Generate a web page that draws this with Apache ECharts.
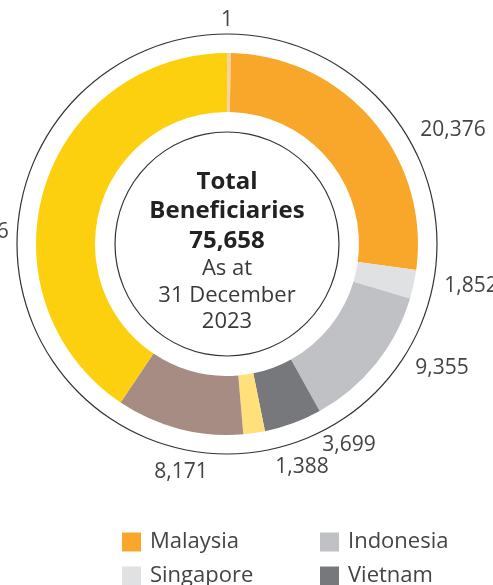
<!DOCTYPE html>
<html>
<head>
<meta charset="utf-8">
<script src="https://cdn.jsdelivr.net/npm/echarts@6/dist/echarts.min.js"></script>
<style>
html,body{margin:0;padding:0;background:#fff;}
#chart{width:493px;height:585px;}
</style>
</head>
<body>
<div id="chart"></div>
<script>
// ---- data ----
const categories = ['Other', 'Malaysia', 'Singapore', 'Indonesia', 'Vietnam', 'Thailand', 'Philippines', 'Others'];
const values = [1, 20376, 1852, 9355, 3699, 1388, 8171, 30816];
const legendLeft = ['Malaysia', 'Singapore'];
const legendRight = ['Indonesia', 'Vietnam'];
const centerTitle = ['Total', 'Beneficiaries', '75,658'];
const centerSub = ['As at', '31 December', '2023'];

// ---- styling ----
const colors = ['#F6D3A0', '#F9A72B', '#E0E1E3', '#C0C1C5', '#77787B', '#FFE07A', '#A68C82', '#FDD00F'];
const FONT = '"Open Sans", sans-serif';
const CX = 227, CY = 244;
// label anchor positions (pixel centres) per slice
const labelPos = [[227, 20], [453, 130], [471, 286], [442, 368], [349, 445], [302, 467], [181, 472], [-24, 232]];

const chart = echarts.init(document.getElementById('chart'));
const pieData = categories.map((c, i) => ({ name: c, value: values[i], itemStyle: { color: colors[i] } }));

const ring = (r, name) => ({
  type: 'pie', silent: true, center: [CX, CY], radius: [r - 0.6, r + 0.6],
  label: { show: false }, labelLine: { show: false }, emphasis: { disabled: true },
  data: [{ name: name, value: 1, itemStyle: { color: '#333' } }], z: 1
});

const graphics = [];
centerTitle.forEach((t, i) => graphics.push({
  type: 'text', x: CX, y: 182 + i * 29.5,
  style: { text: t, align: 'center', verticalAlign: 'middle', font: 'bold 24px ' + FONT, fill: '#222' }
}));
centerSub.forEach((t, i) => graphics.push({
  type: 'text', x: CX, y: 269 + i * 26.5,
  style: { text: t, align: 'center', verticalAlign: 'middle', font: '22px ' + FONT, fill: '#3a3a3a' }
}));

const legendCommon = {
  orient: 'vertical', icon: 'rect', itemWidth: 19, itemHeight: 19, itemGap: 12, top: 531,
  padding: 0, height: 60, selectedMode: false,
  textStyle: { fontFamily: FONT, fontSize: 22, color: '#444', padding: [0, 0, 0, 4] }
};

chart.setOption({
  animation: false,
  legend: [
    Object.assign({}, legendCommon, { left: 122, data: legendLeft }),
    Object.assign({}, legendCommon, { left: 320, data: legendRight })
  ],
  graphic: graphics,
  series: [
    {
      type: 'pie', center: [CX, CY], radius: [132, 191], startAngle: 90, clockwise: true,
      minAngle: 1.2, avoidLabelOverlap: false,
      emphasis: { disabled: true },
      label: {
        show: true, position: 'outside', fontFamily: FONT, fontSize: 21, color: '#444',
        formatter: p => p.value.toLocaleString('en-US')
      },
      labelLine: { show: false },
      labelLayout: p => ({ x: labelPos[p.dataIndex][0], y: labelPos[p.dataIndex][1], align: 'center', verticalAlign: 'middle' }),
      data: pieData, z: 2
    },
    ring(112, 'innerRing'),
    ring(210, 'outerRing')
  ]
});
</script>
</body>
</html>
